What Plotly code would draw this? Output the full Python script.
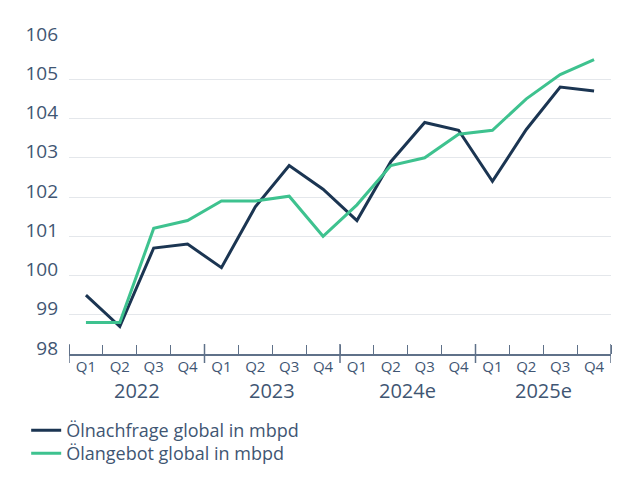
import plotly.graph_objects as go

quarters = ["Q1", "Q2", "Q3", "Q4"] * 4
years = ["2022", "2023", "2024e", "2025e"]
demand = [99.5, 98.7, 100.7, 100.8, 100.2, 101.75, 102.8, 102.2,
          101.4, 102.9, 103.9, 103.7, 102.4, 103.72, 104.8, 104.7]
supply = [98.8, 98.8, 101.2, 101.4, 101.9, 101.9, 102.02, 101.0,
          101.8, 102.8, 103.0, 103.6, 103.7, 104.5, 105.12, 105.5]
y_ticks = [98, 99, 100, 101, 102, 103, 104, 105, 106]

name_demand = "Ölnachfrage global in mbpd"
name_supply = "Ölangebot global in mbpd"

NAVY = "#1b3552"
GREEN = "#3ec28f"
TEXT = "#3f5673"
AXIS = "#5f7189"
FONT = "Open Sans"

x = list(range(len(quarters)))

fig = go.Figure()
fig.add_trace(go.Scatter(x=x, y=demand, mode="lines", name=name_demand,
                         line=dict(color=NAVY, width=3), legend="legend"))
fig.add_trace(go.Scatter(x=x, y=supply, mode="lines", name=name_supply,
                         line=dict(color=GREEN, width=3), legend="legend2"))

# year separators (longer ticks) and year labels
for i, yr in enumerate(years):
    fig.add_annotation(x=i * 4 + 1.5, y=0, xref="x", yref="paper", yanchor="top",
                       yshift=-21, text=yr, showarrow=False,
                       font=dict(family=FONT, size=20, color=TEXT))
for b in range(len(years) + 1):
    fig.add_shape(type="line", xref="x", yref="paper", x0=b * 4 - 0.5, x1=b * 4 - 0.5,
                  ysizemode="pixel", yanchor=0, y0=-9, y1=10,
                  line=dict(color=AXIS, width=1.5))

leg_common = dict(xanchor="left", yanchor="top",
                  font=dict(family=FONT, size=18, color=TEXT),
                  itemwidth=30, bgcolor="rgba(0,0,0,0)")

fig.update_layout(
    width=632, height=472,
    margin=dict(l=61, r=29, t=32, b=126, autoexpand=False),
    paper_bgcolor="white", plot_bgcolor="white",
    font=dict(family=FONT, color=TEXT),
    showlegend=True,
    legend=dict(x=-0.079, y=-0.185, **leg_common),
    legend2=dict(x=-0.079, y=-0.258, **leg_common),
    xaxis=dict(range=[-0.5, len(quarters) - 0.5], tickmode="array", tickvals=x,
               ticktext=quarters, ticks="", showgrid=False, zeroline=False,
               showline=True, linecolor=AXIS, linewidth=1.5,
               tickfont=dict(family=FONT, size=15, color=TEXT),
               ticklabelstandoff=-2, tickangle=0,
               minor=dict(tickmode="array", tickvals=[v - 0.5 for v in x] + [len(x) - 0.5],
                          ticks="inside", ticklen=9, tickcolor=AXIS, tickwidth=1.2,
                          showgrid=False)),
    yaxis=dict(range=[98, 106], tickmode="array", tickvals=y_ticks,
               showgrid=True, gridcolor="#e4e7eb", gridwidth=1, zeroline=False,
               showline=False, ticks="",
               tickfont=dict(family=FONT, size=19, color=TEXT),
               ticklabelstandoff=10, ticklabelshift=-6),
)

fig.write_html("out.html")
